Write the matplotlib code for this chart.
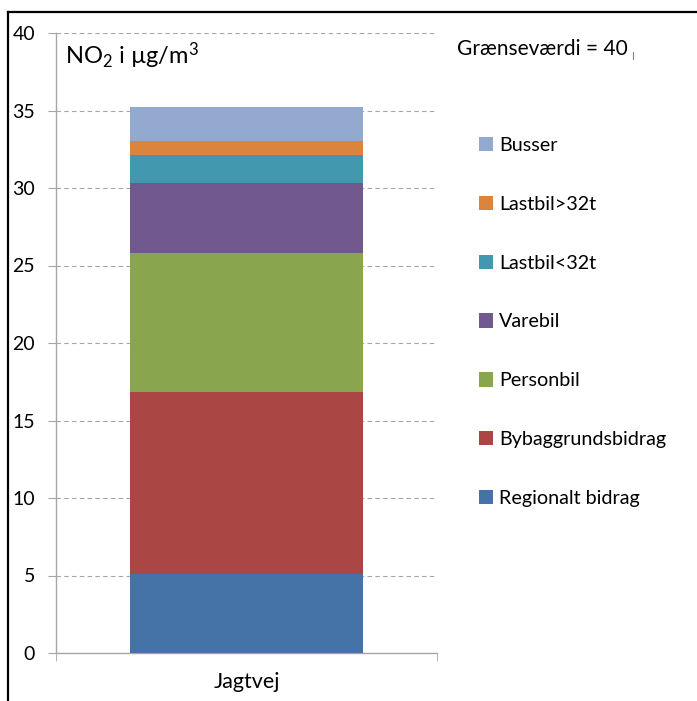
import matplotlib
matplotlib.use("Agg")
import matplotlib.pyplot as plt
from matplotlib.lines import Line2D
from matplotlib.ticker import FixedLocator

plt.rcParams['font.family'] = ['Lato', 'DejaVu Sans']
plt.rcParams['mathtext.fontset'] = 'custom'
plt.rcParams['mathtext.rm'] = 'Lato'
plt.rcParams['mathtext.it'] = 'Lato'

# NO2 contributions at Jagtvej, bottom to top
category = "Jagtvej"
sources = ["Regionalt bidrag", "Bybaggrundsbidrag", "Personbil", "Varebil",
           "Lastbil<32t", "Lastbil>32t", "Busser"]
values = [5.1, 11.75, 8.95, 4.55, 1.8, 0.9, 2.15]
colors = ["#4572A7", "#AA4643", "#89A54E", "#71588F",
          "#4198AF", "#DB843D", "#93A9CF"]
yticks = [0, 5, 10, 15, 20, 25, 30, 35, 40]

W, H = 697, 701
fig = plt.figure(figsize=(W / 100, H / 100), dpi=100)
ax = fig.add_axes([56 / W, 1 - 653 / H, (437 - 56) / W, (653 - 33) / H])

grid_col = "#a6a6a6"
bottom = 0
handles = []
for name, v, c in zip(sources, values, colors):
    b = ax.bar(0, v, width=0.61, bottom=bottom, color=c, label=name, zorder=3)
    handles.append(b)
    bottom += v

ax.set_xlim(-0.5, 0.5)
ax.set_ylim(0, 40)
ax.set_yticks(yticks)
ax.yaxis.grid(True, color=grid_col, linestyle=(0, (4, 3)), linewidth=0.8, zorder=0)
ax.tick_params(axis='y', length=6, color=grid_col, labelsize=14, pad=9)

ax.set_xticks([0])
ax.set_xticklabels([category], fontsize=15.5)
ax.xaxis.set_minor_locator(FixedLocator([-0.5, 0.5]))
ax.tick_params(axis='x', which='major', length=0, pad=14)
ax.tick_params(axis='x', which='minor', length=6, color=grid_col)

for side in ("top", "right"):
    ax.spines[side].set_visible(False)
for side in ("left", "bottom"):
    ax.spines[side].set_color(grid_col)
    ax.spines[side].set_linewidth(1.0)

ax.text(0.024, 0.988, "NO$_2$ i µg/m$^3$", transform=ax.transAxes,
        fontsize=17, va='top', ha='left')

leg = fig.legend(handles[::-1], sources[::-1], loc='upper left',
                 bbox_to_anchor=(471 / W, 1 - 129 / H), frameon=False,
                 fontsize=14.2, handlelength=0.74, handleheight=0.74,
                 handletextpad=0.28, labelspacing=2.12, borderaxespad=0)

fig.text(457 / W, 1 - 49 / H, "Grænseværdi = 40", fontsize=15,
         ha='left', va='center')
fig.add_artist(Line2D([633 / W, 633 / W], [1 - 52 / H, 1 - 59 / H],
                      transform=fig.transFigure, color="#808080", lw=0.8))

# outer frame
fig.add_artist(Line2D([8 / W, 8 / W], [0, 1 - 12 / H],
                      transform=fig.transFigure, color="black", lw=1.6))
fig.add_artist(Line2D([8 / W, 1], [1 - 12 / H, 1 - 12 / H],
                      transform=fig.transFigure, color="black", lw=1.6))

fig.savefig("out.png", dpi=100)
